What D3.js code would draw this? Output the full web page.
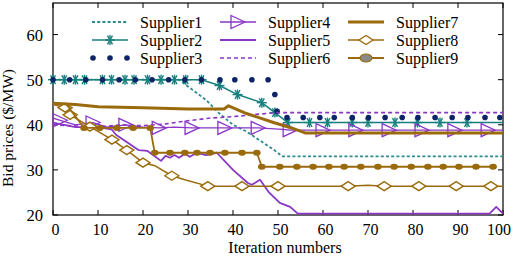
<!DOCTYPE html>
<html>
<head>
<meta charset="utf-8">
<script src="https://cdn.jsdelivr.net/npm/d3@7"></script>
<style>
  body { margin: 0; background: #fff; }
</style>
</head>
<body>
<div id="chart"></div>
<script>
// ticks
const iterTicks = [0, 10, 20, 30, 40, 50, 60, 70, 80, 90, 100];
const priceTicks = [20, 30, 40, 50, 60];
const supplierNames = ["Supplier1", "Supplier2", "Supplier3", "Supplier4", "Supplier5",
                       "Supplier6", "Supplier7", "Supplier8", "Supplier9"];

// [iteration, price, mark] ; mark 0 = point without a marker
const supplier1 = [[0,50],[28,50],[30,48.5],[34,45.5],[37,42.5],[40,40],[43,38.5],[46,36.5],[49,34.5],[51,33],[100,33]];
const supplier2 = [[0,50],[2.5,50],[5,50],[7,50],[11,50],[13,50],[16,50],[18,50],[21,50],[24,50],[27,50],[29.5,50],[33,50],
  [37,48.7],[41,46.7],[46.4,44.9],[49.3,42.7],[52.2,40.5],[57,40.5],[61,40.5],[66.5,40.5],[70,40.5],[76,40.5],[81,40.5],
  [86,40.5],[92,40.5],[100,40.5,0]];
const supplier3 = [[0,50],[3.7,50],[7.3,50],[11,50],[14.7,50],[18.3,50],[22,50],[25.7,50],[29.3,50],[33,50],[37.1,50],
  [40.4,50],[44.2,50],[47.8,50],[49.3,46.7],[49.8,43],[52,41.6],[55.6,41.6],[59.3,41.6],[62.5,41.6],[66.5,41.6],[70.1,41.6],
  [73.8,41.6],[77.6,41.6],[81.1,41.6],[84.9,41.6],[88.7,41.6],[92.2,41.6],[96,41.6],[99.3,41.6]];
const supplier4 = [[0,41.5,0],[1.6,41],[5,40,0],[8.9,40.5],[12,39.5,0],[16.2,40],[20,39.5,0],[23.6,39.3],[27,39.5,0],
  [30.9,39.3],[38.2,39.3],[45.6,39.3],[51,39,0],[52.7,38.8],[60,38.8],[67.3,38.8],[74.7,38.8],[82,38.8],[89.3,38.8],[96.7,38.8],[100,38.8,0]];
const supplier5 = [[0,40.5],[5,39.5],[10,39.5],[13,39],[14,37.8],[19,34.4],[21,34.2],[24,32],[25,33.1],[26,32.7],[27,33.3],
  [28,32.7],[29.3,33.6],[30.4,32.9],[32,33.8],[34,33.3],[36.4,33.8],[40,30],[43.3,27.1],[44.2,26.7],[46,27.8],[48,25],
  [50.4,22.7],[52.7,21.8],[54.4,20.3],[97,20.3],[98.5,21.8],[100,20.3]];
const supplier6 = [[0,40],[10,39.5],[15,40],[20,39.8],[25,40.2],[30,40.9],[35,41.5],[40,41.8],[45,42.3],[50,42.7],[100,42.7]];
const supplier7 = [[0,44.8],[5,44.5],[10,44],[20,43.8],[30,43.5],[38,43.5],[39,44.2],[43,42.5],[49,40.5],[53,39.3],[56,38.2],[100,38.2]];
const supplier8 = [[0,44.5,0],[2.7,43.8],[3.8,42.2],[8.2,39.6],[13.1,36.7],[16.4,34.4],[20,31.6],[22.7,30.9,0],[26.4,28.7],
  [29.3,27.8,0],[34.4,26.4],[42,26.4],[50,26.4],[57.8,26.4,0],[65.6,26.4],[70,26.6,0],[73.6,26.4],[81.3,26.4],[89.6,26.4],
  [97.3,26.4],[100,26.4,0]];
const supplier9 = [[0,44.8,0],[3,44.5,0],[6.9,39.3],[10.4,39.3],[14.2,39.3],[17.8,39.3],[21.6,39.3],[22.6,33.8],[26,33.8],
  [29.3,33.8],[32,33.8],[34.9,33.8],[38.2,33.8],[42,33.8],[45.3,33.8],[46.4,30.7],[50.4,30.7],[54.2,30.7],[57.8,30.7],
  [61.3,30.7],[64.7,30.7],[68.4,30.7],[72.2,30.7],[75.8,30.7],[79.6,30.7],[83.3,30.7],[86.7,30.7],[90.2,30.7],[94,30.7],[97.8,30.7]];

const supplierData = [supplier1, supplier2, supplier3, supplier4, supplier5, supplier6, supplier7, supplier8, supplier9];

const teal = "#17807f", navy = "#0d2466", purple = "#8a36c6", brown = "#9a6b0c";
const styles = [
  { color: "#2a8c90", width: 1.8, dash: "3,2.2", marker: null },
  { color: teal, width: 1.5, dash: null, marker: "asterisk" },
  { color: navy, width: 0, dash: null, marker: "dot" },
  { color: purple, width: 1.3, dash: null, marker: "triangle" },
  { color: purple, width: 1.8, dash: null, marker: null },
  { color: purple, width: 1.6, dash: "4,3", marker: null },
  { color: brown, width: 3, dash: null, marker: null },
  { color: brown, width: 1.5, dash: null, marker: "diamond" },
  { color: brown, width: 1.8, dash: null, marker: "circle" }
];

const W = 512, H = 256;
const margin = { left: 53, right: 9, top: 3, bottom: 41 };
const serif = "'Liberation Serif', 'Times New Roman', Times, serif";

const svg = d3.select("#chart").append("svg")
  .attr("width", W).attr("height", H)
  .attr("font-family", serif)
  .style("font-family", serif);

const x = d3.scaleLinear().domain([0, 100]).range([margin.left, W - margin.right]);
const y = d3.scaleLinear().domain([20, 67]).range([H - margin.bottom, margin.top]);

const line = d3.line().x(d => x(d[0])).y(d => y(d[1]));

function drawMarker(g, type, cx, cy, color, legend) {
  if (type === "asterisk") {
    const r = 5;
    [[r, 0], [r * 0.5, r * 0.87], [r * 0.5, -r * 0.87]].forEach(([dx, dy]) => {
      g.append("line").attr("x1", cx - dx).attr("y1", cy - dy).attr("x2", cx + dx).attr("y2", cy + dy)
        .attr("stroke", color).attr("stroke-width", 1.4);
    });
    g.append("line").attr("x1", cx).attr("y1", cy - r).attr("x2", cx).attr("y2", cy + r)
      .attr("stroke", color).attr("stroke-width", 1.4);
  } else if (type === "dot") {
    g.append("circle").attr("cx", cx).attr("cy", cy).attr("r", 2.8).attr("fill", color);
  } else if (type === "triangle") {
    g.append("path")
      .attr("d", `M${cx - 7},${cy - 6.5}L${cx + 7},${cy}L${cx - 7},${cy + 6.5}Z`)
      .attr("fill", "none").attr("stroke", color).attr("stroke-width", 1.3);
  } else if (type === "diamond") {
    g.append("path")
      .attr("d", `M${cx - 7},${cy}L${cx},${cy - 4.5}L${cx + 7},${cy}L${cx},${cy + 4.5}Z`)
      .attr("fill", "#fff").attr("stroke", color).attr("stroke-width", 1.4);
  } else if (type === "circle") {
    g.append("ellipse").attr("cx", cx).attr("cy", cy)
      .attr("rx", legend ? 6 : 3.2).attr("ry", legend ? 4 : 2.4)
      .attr("fill", legend ? "#8a8a8a" : color).attr("stroke", color).attr("stroke-width", 1.2);
  }
}

// frame
svg.append("rect")
  .attr("x", x(0)).attr("y", y(67))
  .attr("width", x(100) - x(0)).attr("height", y(20) - y(67))
  .attr("fill", "none").attr("stroke", "#000").attr("stroke-width", 1.2);

// ticks (inward, mirrored)
const tickG = svg.append("g").attr("stroke", "#000").attr("stroke-width", 1);
iterTicks.forEach(t => {
  tickG.append("line").attr("x1", x(t)).attr("x2", x(t)).attr("y1", y(20)).attr("y2", y(20) - 5);
  tickG.append("line").attr("x1", x(t)).attr("x2", x(t)).attr("y1", y(67)).attr("y2", y(67) + 5);
});
priceTicks.forEach(t => {
  tickG.append("line").attr("y1", y(t)).attr("y2", y(t)).attr("x1", x(0)).attr("x2", x(0) + 5);
  tickG.append("line").attr("y1", y(t)).attr("y2", y(t)).attr("x1", x(100)).attr("x2", x(100) - 5);
});

svg.append("g").selectAll("text").data(iterTicks).join("text")
  .attr("x", d => Math.min(x(d) + 2.5, W - 13)).attr("y", 235)
  .attr("text-anchor", "middle").attr("font-size", 16)
  .text(d => d);

svg.append("g").selectAll("text").data(priceTicks).join("text")
  .attr("x", 43).attr("y", d => y(d) + 6)
  .attr("text-anchor", "end").attr("font-size", 16.5)
  .text(d => d);

svg.append("text")
  .attr("x", 285).attr("y", 253)
  .attr("text-anchor", "middle").attr("font-size", 16)
  .text("Iteration numbers");

svg.append("text")
  .attr("transform", "translate(13,128) rotate(-90)")
  .attr("text-anchor", "middle").attr("font-size", 15.5)
  .text("Bid prices ($/MW)");

// series
const plot = svg.append("g");
supplierData.forEach((data, i) => {
  const s = styles[i];
  const g = plot.append("g");
  if (s.width > 0) {
    g.append("path")
      .attr("d", line(data))
      .attr("fill", "none")
      .attr("stroke", s.color)
      .attr("stroke-width", s.width)
      .attr("stroke-dasharray", s.dash)
      .attr("stroke-linejoin", "round");
  }
  if (s.marker) {
    data.filter(d => d[2] !== 0).forEach(d => drawMarker(g, s.marker, x(d[0]), y(d[1]), s.color, false));
  }
});

// legend
const legendCols = [92, 220, 348];
const legendRows = [22, 40, 58];
const legend = svg.append("g");
supplierNames.forEach((name, i) => {
  const s = styles[i];
  const lx = legendCols[Math.floor(i / 3)], ly = legendRows[i % 3];
  const g = legend.append("g");
  if (s.width > 0) {
    g.append("line").attr("x1", lx).attr("x2", lx + 36).attr("y1", ly).attr("y2", ly)
      .attr("stroke", s.color).attr("stroke-width", s.width).attr("stroke-dasharray", s.dash);
  }
  if (s.marker === "dot") {
    [lx + 1, lx + 18, lx + 35].forEach(cx => drawMarker(g, "dot", cx, ly, s.color, true));
  } else if (s.marker) {
    drawMarker(g, s.marker, lx + 18, ly, s.color, true);
  }
  g.append("text").attr("x", lx + 48).attr("y", ly + 5.5)
    .attr("font-size", 16).text(name);
});
</script>
</body>
</html>
